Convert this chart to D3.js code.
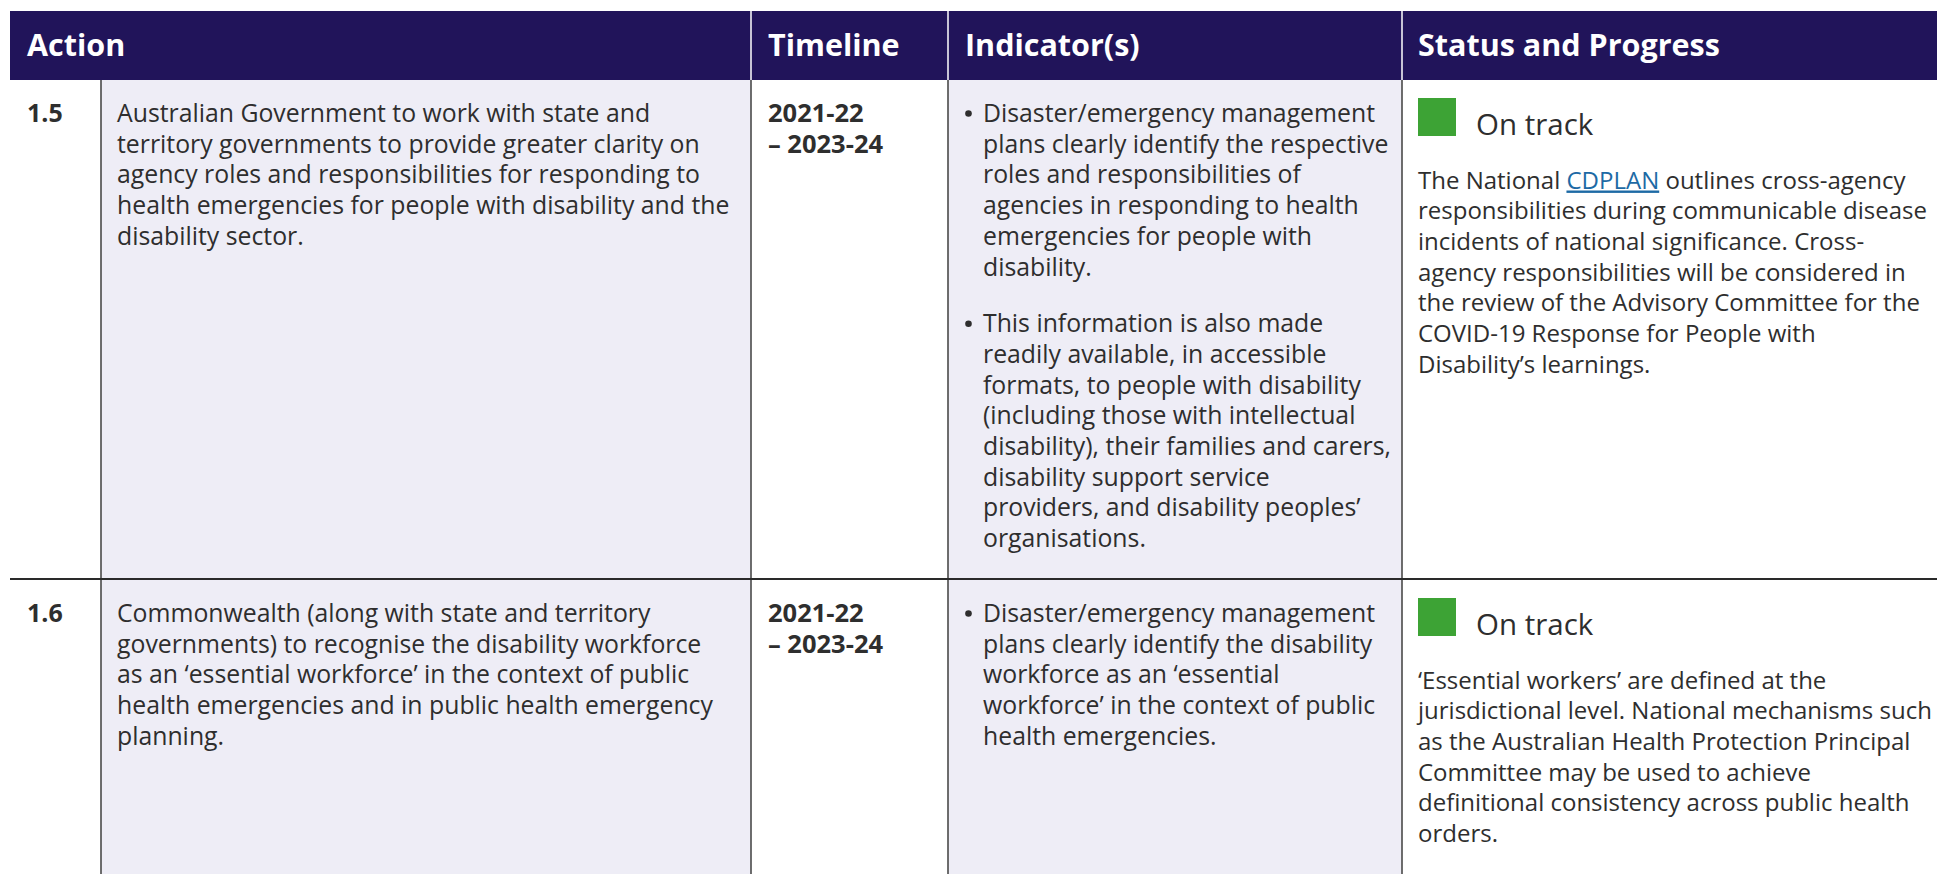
<!DOCTYPE html>
<html>
<head>
<meta charset="utf-8">
<script src="https://cdn.jsdelivr.net/npm/d3@7"></script>
<style>
  html, body { margin: 0; padding: 0; background: #fff; overflow: hidden; }
  svg { display: block; }
</style>
</head>
<body>
<svg id="chart" width="1937" height="874"></svg>
<script>
// ---- data ----
const headers = ["Action", "Timeline", "Indicator(s)", "Status and Progress"];
const actionNumbers = ["1.5", "1.6"];
const timelines = [["2021-22", "– 2023-24"], ["2021-22", "– 2023-24"]];
const actions = [
  ["Australian Government to work with state and",
   "territory governments to provide greater clarity on",
   "agency roles and responsibilities for responding to",
   "health emergencies for people with disability and the",
   "disability sector."],
  ["Commonwealth (along with state and territory",
   "governments) to recognise the disability workforce",
   "as an ‘essential workforce’ in the context of public",
   "health emergencies and in public health emergency",
   "planning."]
];
const indicators = [
  [["Disaster/emergency management",
    "plans clearly identify the respective",
    "roles and responsibilities of",
    "agencies in responding to health",
    "emergencies for people with",
    "disability."],
   ["This information is also made",
    "readily available, in accessible",
    "formats, to people with disability",
    "(including those with intellectual",
    "disability), their families and carers,",
    "disability support service",
    "providers, and disability peoples’",
    "organisations."]],
  [["Disaster/emergency management",
    "plans clearly identify the disability",
    "workforce as an ‘essential",
    "workforce’ in the context of public",
    "health emergencies."]]
];
const statuses = ["On track", "On track"];
const statusTexts = [
  [[{t: "The National "}, {t: "CDPLAN", link: true}, {t: " outlines cross-agency"}],
   [{t: "responsibilities during communicable disease"}],
   [{t: "incidents of national significance. Cross-"}],
   [{t: "agency responsibilities will be considered in"}],
   [{t: "the review of the Advisory Committee for the"}],
   [{t: "COVID-19 Response for People with"}],
   [{t: "Disability’s learnings."}]],
  [[{t: "‘Essential workers’ are defined at the"}],
   [{t: "jurisdictional level. National mechanisms such"}],
   [{t: "as the Australian Health Protection Principal"}],
   [{t: "Committee may be used to achieve"}],
   [{t: "definitional consistency across public health"}],
   [{t: "orders."}]]
];

// ---- layout ----
const W = 1937, H = 874;
const headerTop = 11, headerBottom = 80;
const rowTops = [80, 580];
const rowBottoms = [579, 874];
const colX = {left: 10, num: 101, timeline: 751, indicator: 948, status: 1402, right: W};
const FONT = "'Open Sans', 'Noto Sans', sans-serif";
const fs = 24.8, statusFs = 24.0, lh = 30.7, paraGap = 26;
const textColor = "#2e2e2e";
const navy = "#21145a";
const lav = "#eeedf6";
const green = "#3da335";
const linkColor = "#1d6aa5";

const svg = d3.select("#chart");

// header
svg.append("rect").attr("x", colX.left).attr("y", headerTop)
  .attr("width", W - colX.left).attr("height", headerBottom - headerTop).attr("fill", navy);
const headerX = [27, 768, 965, 1418];
svg.selectAll("text.hdr").data(headers).join("text")
  .attr("class", "hdr")
  .attr("x", (d, i) => headerX[i]).attr("y", 56)
  .attr("font-family", FONT).attr("font-weight", 700).attr("font-size", 30.5)
  .attr("fill", "#fff").text(d => d);
[colX.timeline, colX.indicator, colX.status].forEach(x => {
  svg.append("line").attr("x1", x).attr("x2", x).attr("y1", headerTop).attr("y2", headerBottom)
    .attr("stroke", "#fff").attr("stroke-width", 1.5);
});

// body backgrounds
rowTops.forEach((top, r) => {
  const bottom = rowBottoms[r];
  svg.append("rect").attr("x", colX.num).attr("y", top).attr("width", colX.timeline - colX.num)
    .attr("height", bottom - top).attr("fill", lav);
  svg.append("rect").attr("x", colX.indicator).attr("y", top).attr("width", colX.status - colX.indicator)
    .attr("height", bottom - top).attr("fill", lav);
});

// vertical lines
[colX.num, colX.timeline, colX.indicator, colX.status].forEach(x => {
  svg.append("line").attr("x1", x).attr("x2", x).attr("y1", headerBottom).attr("y2", H)
    .attr("stroke", "#4a4a4a").attr("stroke-width", 1.6);
});
// row separator
svg.append("line").attr("x1", colX.left).attr("x2", W).attr("y1", 579).attr("y2", 579)
  .attr("stroke", "#2a2a2a").attr("stroke-width", 2);

function lines(g, arr, x, y0, opts = {}) {
  g.selectAll(null).data(arr).join("text")
    .attr("x", x).attr("y", (d, i) => y0 + i * lh)
    .attr("font-family", FONT).attr("font-size", opts.size || fs)
    .attr("font-weight", opts.bold ? 700 : 400)
    .attr("fill", textColor).text(d => d);
}

rowTops.forEach((top, r) => {
  const g = svg.append("g");
  const base = top + 42;
  // number
  g.append("text").attr("x", 27).attr("y", base).attr("font-family", FONT)
    .attr("font-size", 25).attr("font-weight", 700).attr("fill", textColor).text(actionNumbers[r]);
  lines(g, actions[r], 117, base);
  lines(g, timelines[r], 768, base, {bold: true, size: 25.5});
  // indicators
  let y = base;
  indicators[r].forEach(par => {
    g.append("circle").attr("cx", 968.5).attr("cy", y - 8.5).attr("r", 3.3).attr("fill", textColor);
    lines(g, par, 983, y);
    y += par.length * lh + paraGap;
  });
  // status
  g.append("rect").attr("x", 1418).attr("y", top + 18).attr("width", 38).attr("height", 38)
    .attr("fill", green);
  g.append("text").attr("x", 1476).attr("y", top + 54.5).attr("font-family", FONT)
    .attr("font-size", 29.5).attr("fill", textColor).text(statuses[r]);
  statusTexts[r].forEach((segs, i) => {
    const t = g.append("text").attr("x", 1418).attr("y", top + 108.5 + i * lh)
      .attr("font-family", FONT).attr("font-size", statusFs).attr("fill", textColor)
      .attr("xml:space", "preserve").style("white-space", "pre");
    segs.forEach(s => {
      const ts = t.append("tspan").text(s.t);
      if (s.link) ts.attr("fill", linkColor).attr("text-decoration", "underline");
    });
  });
});
</script>
</body>
</html>
